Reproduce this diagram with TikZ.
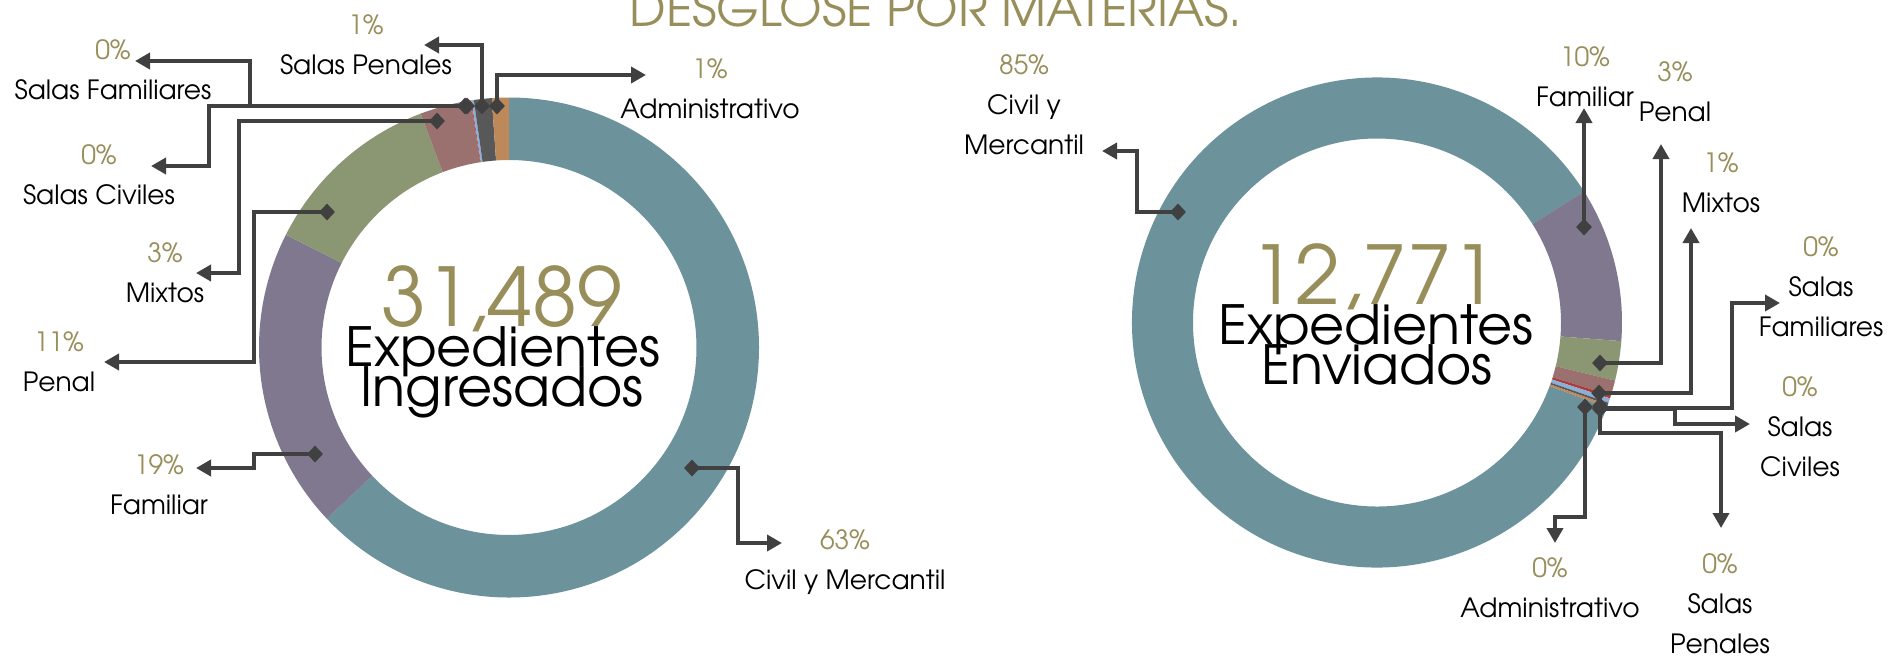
\documentclass[tikz,border=0pt]{standalone}
\usepackage{fontspec}
\setmainfont{TeX Gyre Adventor}
\usetikzlibrary{arrows.meta,shapes.geometric}
\definecolor{ol}{RGB}{152,142,90}
\definecolor{lc}{RGB}{64,64,64}
\definecolor{cteal}{RGB}{108,146,156}
\definecolor{cpurp}{RGB}{128,120,142}
\definecolor{cgreen}{RGB}{139,150,115}
\definecolor{crose}{RGB}{155,113,112}
\definecolor{cred}{RGB}{170,60,60}
\definecolor{clblue}{RGB}{140,175,215}
\definecolor{cdgray}{RGB}{88,88,88}
\definecolor{corange}{RGB}{190,137,90}
\newcommand{\donutseg}[3]{\fill[#3] ({#1-90}:\Ro) arc[start angle={#1-90}, end angle={#2-90}, radius=\Ro] -- ({#2-90}:\Ri) arc[start angle={#2-90}, end angle={#1-90}, radius=\Ri] -- cycle;}
\tikzset{
  lead/.style={draw=lc, line width=4pt, -{Triangle[length=15pt,width=16pt]}},
  dmd/.style={diamond, fill=lc, inner sep=0pt, minimum width=16pt, minimum height=17pt},
  lab/.style={font=\fontsize{26.5}{40}\selectfont, align=center, text=black, inner sep=0pt},
  bignum/.style={font=\fontsize{81}{84}\selectfont, text=ol, inner sep=0pt, anchor=base},
  bigtxt/.style={font=\fontsize{54}{54}\selectfont, text=black, inner sep=0pt, anchor=base},
  ttl/.style={font=\fontsize{49}{49}\selectfont, text=ol, inner sep=0pt, anchor=base}
}
\begin{document}
\begin{tikzpicture}[x=1pt,y=-1pt]
\useasboundingbox (0,0) rectangle (1890,657);
\fill[white] (0,0) rectangle (1890,657);
\clip (0,0) rectangle (1890,657);

% title
\node[ttl] (title) at (936,26) {DESGLOSE POR MATERIAS.};

% left donut
\begin{scope}[shift={(509,347.5)}]
\def\Ro{250}\def\Ri{187.5}
\donutseg{0}{226.8}{cteal}
\donutseg{226.8}{296.82}{cpurp}
\donutseg{296.82}{339.30}{cgreen}
\donutseg{339.30}{351.18}{crose}
\donutseg{351.18}{351.36}{cred}
\donutseg{351.36}{351.90}{clblue}
\donutseg{351.90}{356.04}{cdgray}
\donutseg{356.04}{360}{corange}
\end{scope}

% right donut
\begin{scope}[shift={(1377,322.5)}]
\def\Ro{245}\def\Ri{184}
\donutseg{110.2}{417.64}{cteal}
\donutseg{417.64}{454.36}{cpurp}
\donutseg{454.36}{463.72}{cgreen}
\donutseg{463.72}{467.32}{crose}
\donutseg{467.32}{468.04}{cred}
\donutseg{468.04}{469.12}{clblue}
\donutseg{469.12}{469.66}{cdgray}
\donutseg{469.66}{470.2}{corange}
\end{scope}

% centre texts
\node[bignum] (lnum) at (502,326) {31,489};
\node[bigtxt] (lt1) at (503,366) {Expedientes};
\node[bigtxt] (lt2) at (502,406) {Ingresados};
\node[bignum] (rnum) at (1374,304) {12,771};
\node[bigtxt] (rt1) at (1376,344) {Expedientes};
\node[bigtxt] (rt2) at (1377,384) {Enviados};

% ---------- left connectors ----------
\node[dmd] (lAdmD) at (497,106) {};
\coordinate (lAdmE) at (646,75);
\draw[lead] (lAdmD.center) |- (lAdmE);
\node[lab] (lAdmL) at (710,89) {\textcolor{ol}{1\%}\\Administrativo};

\node[dmd] (lSPD) at (482,106) {};
\coordinate (lSPE) at (424,45);
\draw[lead] (lSPD.center) |- (lSPE);
\node[lab] (lSPL) at (366,45) {\textcolor{ol}{1\%}\\Salas Penales};

\node[dmd] (lSFD) at (467,106) {};
\coordinate (lSFE) at (135,61);
\draw[lead] (lSFD.center) -- (250,106) |- (lSFE);
\node[lab] (lSFL) at (113,70) {\textcolor{ol}{0\%}\\Salas Familiares};

\node[dmd] (lSCD) at (465,106) {};
\coordinate (lSCE) at (151,166);
\draw[lead] (lSCD.center) -- (209,106) |- (lSCE);
\node[lab] (lSCL) at (99,175) {\textcolor{ol}{0\%}\\Salas Civiles};

\node[dmd] (lMixD) at (437,121) {};
\coordinate (lMixE) at (196,273);
\draw[lead] (lMixD.center) -- (239,121) |- (lMixE);
\node[lab] (lMixL) at (165,273) {\textcolor{ol}{3\%}\\Mixtos};

\node[dmd] (lPenD) at (327,212) {};
\coordinate (lPenE) at (104,362);
\draw[lead] (lPenD.center) -- (254,212) |- (lPenE);
\node[lab] (lPenL) at (59,362) {\textcolor{ol}{11\%}\\Penal};

\node[dmd] (lFamD) at (315,454) {};
\coordinate (lFamE) at (196,468);
\draw[lead] (lFamD.center) -- (254,454) |- (lFamE);
\node[lab] (lFamL) at (159,485) {\textcolor{ol}{19\%}\\Familiar};

\node[dmd] (lCivD) at (692,468) {};
\coordinate (lCivE) at (782,543);
\draw[lead] (lCivD.center) -- (738,468) |- (lCivE);
\node[lab] (lCivL) at (845,562) {\textcolor{ol}{63\%}\\Civil y Mercantil};

% ---------- right connectors ----------
\node[dmd] (rCivD) at (1178,212) {};
\coordinate (rCivE) at (1102,151);
\draw[lead] (rCivD.center) -- (1137,212) |- (rCivE);
\node[lab] (rCivL) at (1024,105) {\textcolor{ol}{85\%}\\Civil y\\Mercantil};

\node[dmd] (rFamD) at (1584,227) {};
\coordinate (rFamE) at (1584,108);
\draw[lead] (rFamD.center) -- (rFamE);
\node[lab] (rFamL) at (1585,77) {\textcolor{ol}{10\%}\\Familiar};

\node[dmd] (rPenD) at (1600,363) {};
\coordinate (rPenE) at (1661,144);
\draw[lead] (rPenD.center) -| (rPenE);
\node[lab] (rPenL) at (1675,92) {\textcolor{ol}{3\%}\\Penal};

\node[dmd] (rMixD) at (1599,393) {};
\coordinate (rMixE) at (1691,228);
\draw[lead] (rMixD.center) -| (rMixE);
\node[lab] (rMixL) at (1721,183) {\textcolor{ol}{1\%}\\Mixtos};

\node[dmd] (rSFD) at (1600,408) {};
\coordinate (rSFE) at (1780,303);
\draw[lead] (rSFD.center) -- (1732,408) |- (rSFE);
\node[lab] (rSFL) at (1821,287) {\textcolor{ol}{0\%}\\Salas\\Familiares};

\node[dmd] (rSCD) at (1600,409) {};
\coordinate (rSCE) at (1750,424);
\draw[lead] (rSCD.center) -- (1675,409) |- (rSCE);
\node[lab] (rSCL) at (1800,427) {\textcolor{ol}{0\%}\\Salas\\Civiles};

\node[dmd] (rSPD) at (1600,406) {};
\coordinate (rSPE) at (1721,528);
\draw[lead] (rSPD.center) -- (1600,433) -| (rSPE);
\node[lab] (rSPL) at (1720,604) {\textcolor{ol}{0\%}\\Salas\\Penales};

\node[dmd] (rAdmD) at (1585,407) {};
\coordinate (rAdmE) at (1555,543);
\draw[lead] (rAdmD.center) -- (1585,517) -| (rAdmE);
\node[lab] (rAdmL) at (1550,588) {\textcolor{ol}{0\%}\\Administrativo};
\end{tikzpicture}
\end{document}
